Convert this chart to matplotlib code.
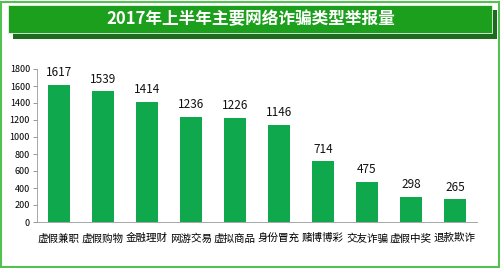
import matplotlib
matplotlib.use("Agg")
import matplotlib.pyplot as plt
from matplotlib.patches import Rectangle

plt.rcParams["font.family"] = ["Noto Sans CJK SC", "DejaVu Sans"]

# =========================
# Data
# =========================
title = "2017年上半年主要网络诈骗类型举报量"
categories = ["虚假兼职", "虚假购物", "金融理财", "网游交易", "虚拟商品",
              "身份冒充", "赌博博彩", "交友诈骗", "虚假中奖", "退款欺诈"]
counts = [1617, 1539, 1414, 1236, 1226, 1146, 714, 475, 298, 265]
yticks = list(range(0, 1801, 200))

bar_color = "#0fa84c"
banner_color = "#1c9f1c"
shadow_color = "#1e6b1e"
border_color = "#52c152"

# =========================
# Figure
# =========================
W, H = 500, 268
fig = plt.figure(figsize=(W / 100, H / 100), dpi=100)

# outer frame
fig.patches.append(Rectangle((1 / W, 1 / H), 1 - 2 / W, 1 - 3 / H, transform=fig.transFigure,
                             fill=False, edgecolor=border_color, linewidth=1.5))

# title banner with shadow
fig.patches.append(Rectangle((13 / W, 1 - 39 / H), 484 / W, 29 / H, transform=fig.transFigure,
                             facecolor=shadow_color, edgecolor="none"))
fig.patches.append(Rectangle((8 / W, 1 - 33 / H), 484 / W, 28 / H, transform=fig.transFigure,
                             facecolor=banner_color, edgecolor="#e8f5e8", linewidth=0.6))
fig.text(251 / W, 1 - 19.5 / H, title, ha="center", va="center",
         color="white", fontsize=12, fontweight="bold")

# =========================
# Bar chart
# =========================
ax = fig.add_axes([37 / W, 1 - 222 / H, 440 / W, 153 / H])
x = range(len(categories))
ax.bar(x, counts, width=0.5, color=bar_color)

for xi, v in zip(x, counts):
    ax.text(xi, v + 65, str(v), ha="center", va="bottom", fontsize=8.5, color="#111111")

ax.set_xlim(-0.5, len(categories) - 0.5)
ax.set_ylim(0, 1800)
ax.set_yticks(yticks)
ax.set_yticklabels([str(t) for t in yticks], fontsize=6.5)
ax.set_xticks(list(x))
ax.set_xticklabels(categories, fontsize=7.6)

ax.tick_params(axis="y", length=3, width=0.6, color="#888888", pad=2)
ax.tick_params(axis="x", length=0, pad=8)
for side in ["top", "right"]:
    ax.spines[side].set_visible(False)
ax.spines["left"].set_color("#999999")
ax.spines["bottom"].set_color("#999999")
ax.spines["left"].set_linewidth(0.6)
ax.spines["bottom"].set_linewidth(0.6)

fig.savefig("out.png", dpi=100)
